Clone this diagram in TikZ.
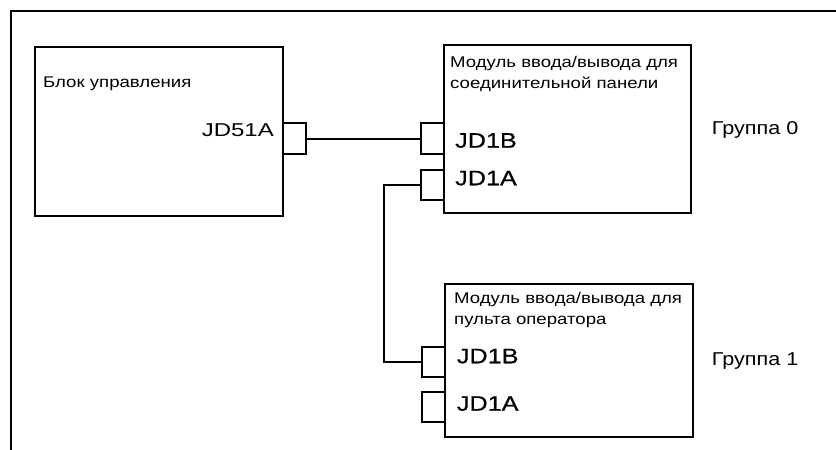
\documentclass[tikz,border=0pt]{standalone}
\usepackage{fontspec}
\setmainfont{Liberation Sans}[FakeStretch=1.2]
\newfontfamily\jdfont{Liberation Sans}[FakeStretch=1.2,FakeBold=0.6]
\newfontfamily\jdafont{Liberation Sans}[FakeStretch=1.29]
\newfontfamily\grpfont{Liberation Sans}[FakeStretch=1.16]
\begin{document}
\begin{tikzpicture}[x=1pt,y=-1pt,
  lw/.style={line width=2pt},
  blockbox/.style={lw,draw,inner sep=0pt,outer sep=0pt,anchor=north west},
  conn/.style={lw,draw,inner sep=0pt,outer sep=0pt,anchor=north west,minimum width=23pt,minimum height=30.5pt},
  small/.style={inner sep=0pt,anchor=base west,font=\fontsize{15.5}{21}\selectfont},
  jdlab/.style={inner sep=0pt,anchor=base west,font=\jdfont\fontsize{21}{24}\selectfont},
  grp/.style={inner sep=0pt,anchor=base west,font=\grpfont\fontsize{18.6}{22}\selectfont}]
\useasboundingbox (0,0) rectangle (836,450);
% frame
\draw[lw] (836,11) -- (11,11) -- (11,450);
% boxes
\node[blockbox,minimum width=247.7pt,minimum height=169.3pt] (ctrl) at (35,46.7) {};
\node[blockbox,minimum width=246.7pt,minimum height=167.7pt] (g0) at (444,45) {};
\node[blockbox,minimum width=248pt,minimum height=152.7pt] (g1) at (445,284) {};
% connectors
\node[conn] (c51) at (282.7,123.3) {};
\node[conn,anchor=north east] (g0b) at (g0.west |- 0,123) {};
\node[conn,anchor=north east] (g0a) at (g0.west |- 0,169.5) {};
\node[conn,anchor=north east] (g1b) at (g1.west |- 0,346.7) {};
\node[conn,anchor=north east] (g1a) at (g1.west |- 0,391.7) {};
% texts
\node[small] (tctrl) at (43,87.7) {Блок управления};
\node[inner sep=0pt,anchor=base east,font=\jdafont\fontsize{18.6}{22}\selectfont] (t51) at (274,136.7) {JD51A};
\node[small] (tg0a) at (450,67.7) {Модуль ввода/вывода для};
\node[small] (tg0b) at (450,88.5) {соединительной панели};
\node[jdlab] (lg0b) at (455,147.7) {JD1B};
\node[jdlab] (lg0a) at (455,185.3) {JD1A};
\node[grp] (grp0) at (711.7,134.3) {Группа 0};
\node[small] (tg1a) at (454,303.3) {Модуль ввода/вывода для};
\node[small] (tg1b) at (454,324.3) {пульта оператора};
\node[jdlab] (lg1b) at (456.7,363.3) {JD1B};
\node[jdlab] (lg1a) at (456.7,410.7) {JD1A};
\node[grp] (grp1) at (711.7,365) {Группа 1};
% cables
\draw[lw] (c51.east) -- (c51.east -| g0b.west);
\coordinate (bend) at (384,0);
\draw[lw] (g0a.west) -- (g0a.west -| bend) |- (g1b.west);
\end{tikzpicture}
\end{document}
